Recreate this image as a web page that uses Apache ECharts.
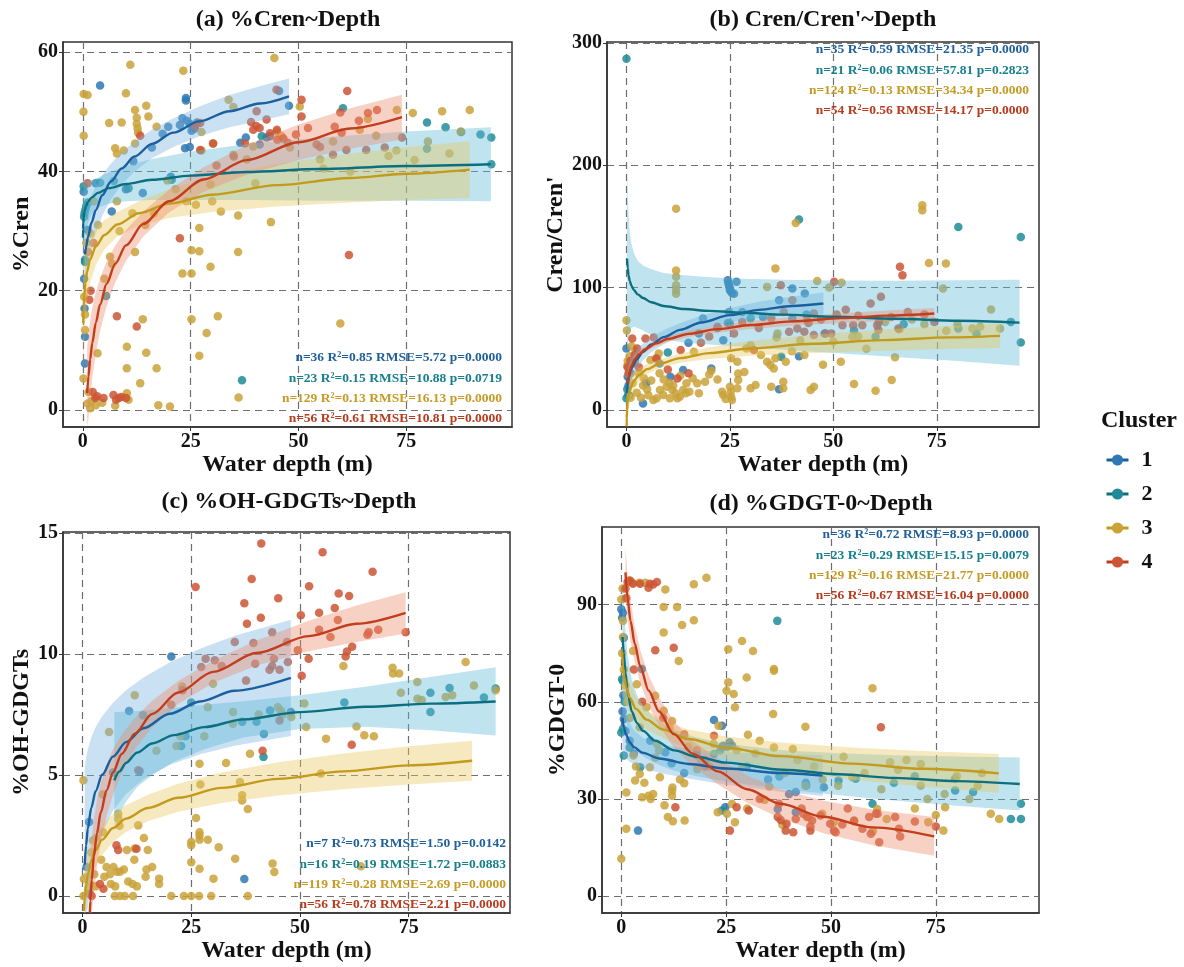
<!DOCTYPE html>
<html>
<head>
<meta charset="utf-8">
<script src="https://cdn.jsdelivr.net/npm/echarts@6/dist/echarts.min.js"></script>
<style>
  html, body { margin: 0; padding: 0; background: #fff; }
  #chart { width: 1184px; height: 967px; }
</style>
</head>
<body>
<div id="chart"></div>
<script>
// cluster names and axis ticks
const clusters = ['1', '2', '3', '4'];
const xTicks = [0, 25, 50, 75];
const yTicksA = [0, 20, 40, 60];
const yTicksB = [0, 100, 200, 300];
const yTicksC = [0, 5, 10, 15];
const yTicksD = [0, 30, 60, 90];

const panelTitles = ['(a) %Cren~Depth', "(b) Cren/Cren'~Depth", '(c) %OH-GDGTs~Depth', '(d) %GDGT-0~Depth'];
const yNames = ['%Cren', "Cren/Cren'", '%OH-GDGTs', '%GDGT-0'];
const xName = 'Water depth (m)';

// fit statistics (one line per cluster)
const statsA = ['n=36 R²=0.85 RMSE=5.72 p=0.0000', 'n=23 R²=0.15 RMSE=10.88 p=0.0719', 'n=129 R²=0.13 RMSE=16.13 p=0.0000', 'n=56 R²=0.61 RMSE=10.81 p=0.0000'];
const statsB = ['n=35 R²=0.59 RMSE=21.35 p=0.0000', 'n=21 R²=0.06 RMSE=57.81 p=0.2823', 'n=124 R²=0.13 RMSE=34.34 p=0.0000', 'n=54 R²=0.56 RMSE=14.17 p=0.0000'];
const statsC = ['n=7 R²=0.73 RMSE=1.50 p=0.0142', 'n=16 R²=0.19 RMSE=1.72 p=0.0883', 'n=119 R²=0.28 RMSE=2.69 p=0.0000', 'n=56 R²=0.78 RMSE=2.21 p=0.0000'];
const statsD = ['n=36 R²=0.72 RMSE=8.93 p=0.0000', 'n=23 R²=0.29 RMSE=15.15 p=0.0079', 'n=129 R²=0.16 RMSE=21.77 p=0.0000', 'n=56 R²=0.67 RMSE=16.04 p=0.0000'];

// ---------- (a) %Cren : points [depth, value] ----------
const ptsA1 = [[4.0,54.4],[23.9,51.9],[23.9,52.3],[23.1,48.9],[24.1,48.5],[24.8,48],[25.6,47.6],[26,47.2],[25.2,46.8],[19.8,47.5],[18.5,46.3],[11.7,41.7],[13.9,36.4],[20.4,39.1],[23.7,43.9],[24.8,44.1],[37.8,45.7],[42.6,45.7],[43.4,45.9],[47.8,51],[0.5,7.8],[0.5,12.3],[1.1,30.2],[0.2,36.6],[0.4,17],[0.3,22],[6.7,33.3],[26.5,48.2],[22.5,47.8],[3,38],[10,37],[41,44.5],[0.6,25],[16,44],[36.5,44.8],[45.5,53.5]];
const ptsA2 = [[0.2,37.5],[0.4,33],[0.6,33.6],[0.8,34.2],[0.5,25.2],[4,38.1],[10.6,37.2],[5.4,19.1],[60.3,50.6],[79.8,48.2],[84.1,47.4],[79.8,43.8],[92.2,46.2],[94.7,45.7],[94.7,41.2],[87.7,46.6],[20.6,38.6],[36.9,5.0],[0.3,32.4],[1.2,34.8],[7.2,38.4],[41.5,45.9],[0.5,24.8]];
const ptsA3 = [[0.2,53],[1.1,52.8],[0.15,50],[11,57.9],[23.3,56.9],[44.4,59],[10,53.1],[9,48.2],[6.1,48.1],[12.1,50.3],[12.5,49],[12.5,48],[12.7,47.2],[12.8,46.5],[14.7,51],[15.2,49.2],[17.1,47.5],[7.5,43.9],[7.9,43],[12.1,44.7],[7.9,35],[1.7,29.6],[6.3,25.7],[0.15,5.3],[0.5,13.4],[1.1,1.1],[1.7,0.3],[3.4,9.5],[10.2,10.6],[10.2,7],[10.2,2.8],[10.6,1.7],[13.9,15.2],[14.7,9.6],[13.3,4.5],[17.1,7],[17.5,0.8],[20.2,0.6],[12.1,26.5],[25.2,26.8],[23.1,22.9],[25.2,22.9],[25.2,15.2],[27,30.5],[27,26.6],[29.6,24],[28.7,12.9],[31.3,15.7],[27,9.1],[26.2,34.4],[36,32.6],[36,26.5],[43.6,31.5],[36.1,2.1],[59.7,14.5],[33.8,52],[34.9,50.8],[72.8,50.3],[76.5,49.8],[83.3,50.1],[89.7,50.3],[70.9,42.6],[72.7,43.5],[76.9,41.9],[87.6,46.7],[64.2,47],[66.1,48.8],[44.9,46.7],[50.3,50.9],[30.2,44.7],[29.6,37.8],[34.9,42.8],[39.5,44.2],[27.5,43.5],[27.5,46.6],[0.3,19],[0.5,16],[0.8,28],[2.5,35],[3.5,31],[5,22],[6.8,24.5],[2,1.5],[3,0.8],[7.5,0.7],[4.5,1.2],[1.3,3],[8.5,30],[11.5,33],[14.5,31],[38,42],[46,46],[55,42],[58,45],[48,44],[62,40],[68,46],[80,45],[85,43],[0.2,46],[9.5,43.5],[19.6,38.5],[21.5,37],[16.5,33],[30,35],[40,38],[55.8,40.5],[32,33.3],[24,35]];
const ptsA4 = [[7.9,15.7],[12.5,14],[13.3,46],[22.5,28.8],[61.7,26],[61.3,53.5],[59.7,49.9],[50.7,52],[50.7,49.2],[44.9,53.7],[40.3,50.1],[39,48.3],[40.2,47.6],[41,47.3],[39.5,47],[37.6,44.7],[42.6,48.7],[43.4,46.4],[45,47],[45.1,45.3],[49.4,46.2],[52.2,47.3],[54.2,44.5],[55,44.1],[58.4,47.5],[61.1,43.6],[65.7,43.6],[66.1,49.8],[74,45.7],[27.2,43.6],[27.2,48.1],[30.2,44.7],[1.1,38],[1.5,18.5],[2.3,3],[2.9,2],[3.3,2.3],[4.8,2],[7.1,2.5],[7.7,1.7],[8.3,2],[8.9,2.2],[10,2],[1.2,26.5],[1.8,20],[2.5,28],[26,47.6],[46.5,45.5],[60,46.5],[58,42.8],[64,48.5],[68.2,50.3],[70,44],[35,42.5],[31,41],[47.5,44.8]];

// ---------- (b) Cren/Cren' ----------
const ptsB1 = [[24.5,106],[24.6,104],[24.8,102],[24.9,100],[25,98],[25.2,97],[25.5,95.5],[26,95],[26.6,104.7],[24.8,80],[24.5,71],[23.4,57],[20.5,34],[17.5,62.6],[18.5,74.8],[13.7,32.6],[10.6,27.2],[4,5.4],[4.8,21.8],[0.3,27.2],[0.5,20],[0.6,12],[0,50.3],[36.9,89.7],[40.1,99.3],[43.1,95.2],[40.1,74.8],[41.7,44],[36.9,16.9],[22,67],[28,80],[33,76],[15,55],[8,38],[47.9,62.6]];
const ptsB2 = [[0,287],[80.2,149.6],[95.3,141.4],[95.3,55.2],[92.9,72],[80.2,66.6],[84.6,62.6],[60.2,59.8],[41.7,155.6],[37.4,43.5],[0.2,17],[0.4,12],[0,9.5],[1,30],[25,70.7],[43.5,78],[55,65],[67,70],[30,75],[2,40],[10,47]];
const ptsB3 = [[0,73.4],[12,164.5],[12,114],[12,108.8],[12,102],[12,98],[12,95],[36,115.6],[34,100.6],[46.1,105.5],[40.9,152.8],[71.5,167.3],[71.5,163.2],[73.1,120.2],[77.2,119.7],[76.5,99.3],[88.1,82.1],[90.3,66.6],[83.6,66.6],[77.3,64.7],[51.8,39.4],[64.9,43],[64.1,24.5],[60.2,15.8],[55,21.2],[54.6,59.8],[45.3,19],[44.5,16.3],[37.9,23.1],[37.9,17.7],[35,19],[34,39.4],[34.8,36.7],[35.6,34],[36,42.2],[38.5,39.4],[36.3,59.3],[36.5,62.6],[30,53],[29,50.3],[26.8,39.4],[27,29.9],[27,24.5],[26.8,17.7],[25,19],[25.2,15],[25.3,10.9],[25.5,8.2],[23.1,15],[23.4,12.2],[30,17.7],[31.2,20.4],[25.3,42.2],[17.1,21.8],[17.5,13.6],[14.5,21.8],[13.7,16.3],[12.9,10.9],[14.3,13.6],[9.7,19],[8.1,16.3],[8.9,12.2],[7.3,9.5],[6.5,8.2],[11.1,16.3],[11.9,13.6],[12.3,9.5],[10.5,9.5],[16.3,47.6],[7.4,42.2],[7.8,46.2],[5.8,40.8],[2.2,48],[0.8,44],[0.3,40],[1.5,22],[2.5,14],[3.5,10],[5,17],[6,24],[9,25],[10.4,22],[11.3,20],[15.2,15],[16,26],[19,23],[20.5,32],[3,30],[4.2,26],[1,10],[0.5,30],[8,30],[13,28],[0.2,36],[5.3,12],[28.5,31],[32.5,45],[40,48],[43,45],[47.5,37],[50,56],[52,104],[56,60],[62.5,72],[66,66],[69,74],[72,70],[80,70],[85.5,68],[49,100],[20,29],[22,25],[24,9],[0.1,65],[1.2,52],[2,38],[4,20],[42,57],[58,50]];
const ptsB4 = [[1.4,58.5],[4.6,58.5],[6.6,59.3],[0.3,35],[0.6,30],[2.6,50.3],[13.1,49],[12.3,25.8],[37.3,102],[40.1,89.7],[39.3,63.9],[41.3,66.6],[43.7,73.4],[45.3,78.9],[45.3,61.2],[43,63.9],[48.1,62.6],[49.5,62.6],[50.2,104.7],[50.8,78],[52.2,69.3],[54.8,69.3],[57,69.3],[59,87],[61.5,92.5],[60.6,69.3],[60.9,65.3],[61,72],[65.7,66.6],[66.1,117],[66.7,110],[74.4,72],[30.8,49],[26,62.6],[1,40],[2,45],[3,35],[7.2,42],[10,33],[15,30],[18,55],[20,60],[22,68],[28,72],[32,67],[35,75],[38,80],[44,71],[47,74],[53,82],[56,77],[64,76],[68,80],[72,78]];

// ---------- (c) %OH-GDGTs ----------
const ptsC1 = [[0.9,1.2],[1.5,3.06],[20.4,9.9],[13.1,5.16],[37.2,0.7],[47.9,7.6],[10.7,7.65]];
const ptsC2 = [[13.9,7.47],[25,8.0],[23.7,6.6],[22.7,6.2],[36.7,7.2],[40,7.2],[43.1,7.67],[41.7,6.7],[41.6,5.75],[60.2,8.0],[80,8.4],[80,7.6],[84.4,8.6],[92.3,8.2],[95,8.57],[7,5.1]];
const ptsC3 = [[0.2,4.78],[6.1,6.78],[12,8.3],[22.9,8.66],[28.8,7.8],[30,8.77],[34.6,7.6],[34.6,7.12],[44.9,7.8],[45.6,7.67],[51,7.95],[51.4,6.98],[60,9.5],[71.3,9.43],[71.4,9.19],[72.8,9.19],[73.2,8.4],[77,8.84],[77,8.15],[83.5,8.22],[88.1,9.67],[90,8.7],[64.8,6.64],[38.5,5.88],[26.9,5.47],[27.1,4.61],[36.2,4.71],[36.7,4.16],[36.7,3.95],[38,3.6],[35.1,1.54],[26.1,3.22],[26.9,2.64],[26.9,2.5],[26.9,2.33],[28.8,2.33],[31.3,2.02],[25,2.23],[25,2.1],[25,1.4],[26.9,1.13],[30.1,0.72],[20.4,0],[23.3,0],[25,0],[26.8,0],[29.6,0],[38,0],[43.7,1.34],[44.1,0.99],[64,1.23],[54.8,5.06],[12.8,2.92],[12,1.96],[11.9,1.5],[10.2,1.9],[9.5,1.1],[15,1.9],[14.7,1.1],[17.6,0.72],[17.6,0.5],[14.5,0.8],[4.7,2.64],[3.2,2.4],[2.4,2.3],[4.3,1.5],[5.5,1.2],[6.3,0.9],[7.1,1.2],[7.9,1],[8.6,1.0],[7.4,0],[8.6,0],[9.7,0],[11.6,0],[0.2,0],[1,0.8],[1.7,0.5],[1.3,0.3],[0.3,0.7],[4.6,4.2],[8.2,3.2],[8.2,3.4],[14.1,2.4],[2,1.8],[3,0.4],[5,0.8],[6.5,0.5],[10.5,0.6],[11.5,0.5],[12.5,0.4],[16,1.2],[8.5,2.9],[7.5,0.4],[2.7,0.9],[21.6,6.2],[22.5,6.6],[28,6.6],[17,6],[33,5.5],[40.5,7.5],[46,7.5],[48,7.4],[56,6.5],[63,7],[67,6.6],[78,8.1],[85,8.3],[95,8.5]];
const ptsC4 = [[41.1,14.56],[55.2,14.2],[66.7,13.4],[26,12.77],[38.9,13.1],[52.1,12.8],[58.9,12.5],[61.3,12.4],[37.2,12.1],[45,12.3],[37.8,11.25],[41,11.5],[50.2,11.6],[54.4,11.7],[58.7,11.4],[54.4,11],[65.8,10.9],[65.5,10.8],[74.3,10.9],[43.6,10.9],[39.3,10.45],[49.5,10.15],[60.8,10.1],[60.5,9.9],[39.7,9.6],[28.3,9.8],[30.4,9.74],[27.3,9.46],[43.6,9.5],[43,9.35],[45.3,9.35],[47.2,9.67],[50.4,9.1],[37.6,8.9],[41.4,6.0],[61.9,6.25],[20.4,7.9],[45.3,7.25],[7.8,2.1],[8.2,1.9],[12.4,1.95],[1.7,0.1],[2.1,0],[4,0.5],[12.8,5.2],[4.8,0.3],[23,8.5],[32,9.5],[35,10.5],[47,10.5],[52,9.8],[57,10.7],[62,10.3],[68,11],[44,9.8],[58,11.9]];

// ---------- (d) %GDGT-0 ----------
const ptsD1 = [[0,88.6],[0.4,87.5],[0.2,86],[0.6,79.8],[0.4,66.5],[0.6,54.7],[0.3,57],[0.5,62],[4,20.2],[4.9,70.1],[10.5,44.4],[6.9,48],[22.1,54.4],[24,52.6],[23.6,45],[24,46],[24.3,46.4],[25.2,46],[25.8,47.5],[26.4,46.5],[48.3,33.6],[40,31.5],[41.6,32.1],[37.3,26.9],[41.6,25.9],[24.8,27.4],[20,42],[15,38],[30,40],[35,36],[44,35],[1,51],[2,48],[3,44],[12,41],[18,43.5]];
const ptsD2 = [[37.2,85],[0,50.5],[0.4,51.6],[0.2,67],[0.8,60],[2,45.9],[4.5,39.8],[0.6,43.4],[79.6,36.2],[79.6,32.6],[83.9,32.1],[92.9,23.8],[95.3,23.8],[95.3,28.5],[59.9,28.5],[55.9,36.2],[51.8,35.7],[44.1,34.1],[24,26.4],[37.7,36.9],[22.1,43.9],[70,37],[65,35]];
const ptsD3 = [[0,91.6],[0,11.5],[0.4,85],[0.4,80],[0.2,75],[0.6,70],[1,65],[1.2,20.8],[1.2,32],[1.8,97.3],[2.2,97.3],[2.6,96.8],[4.3,96.8],[5.7,96.8],[10.5,94.7],[10.1,89.3],[13.3,89.3],[10.1,81.4],[17.3,85.2],[17.3,96.3],[20.3,98.3],[14.5,83.7],[13.7,72.6],[2.8,75.7],[3.7,65.4],[8.1,61.9],[6,58.3],[10.1,57.2],[12.1,54.1],[4.4,52.1],[2.9,43.4],[3.3,35.7],[4.4,37.7],[6.8,39.8],[8.1,42.8],[6.5,31],[7.6,31.5],[9.2,36.7],[10.3,28],[11.1,24.4],[12.3,23.1],[12.1,31],[12.1,32.5],[12.2,33.5],[15.1,23.3],[15,34.8],[18.1,39.2],[23.2,52.6],[25.5,76.2],[25.5,66],[25.1,63.4],[26.8,62.4],[27.1,58.3],[26.4,28.5],[25.2,25.4],[23,25.9],[28.8,78.8],[31.4,75.7],[29.9,67.5],[30.2,49.8],[28.8,39.8],[27.1,22.8],[36.4,70.1],[36.4,69.6],[36.2,56.2],[36.4,45.9],[35.3,33.8],[34.2,29.7],[40.9,45.4],[43.9,52.3],[43.9,34.1],[38.4,22],[59.9,64.2],[64.1,41.3],[63.3,23.8],[71.4,40.8],[71.4,34.1],[73,30],[73.2,22.8],[77.1,31.5],[77.2,27.4],[76.8,20.2],[88.1,25.4],[90.1,23.8],[50.7,22.8],[51.7,34.1],[55.1,36.7],[61,26.9],[44.7,24.4],[47.9,25.4],[1.5,60],[2,55],[5,30.5],[7,30],[8.5,47],[9,45],[14,36],[16,46],[19,42],[21,40],[27.5,45],[32,44],[39,38],[46,40],[53,43],[58,38],[66,39],[68,42],[80,37],[85,34],[0.3,95],[1,92],[3.5,40],[5.5,35],[11.5,52],[22,47],[33,48],[42,42],[48,36],[55.5,23],[62,33],[70,27],[75,25],[83,30],[86,38],[60,20],[30,27]];
const ptsD4 = [[1.5,97],[2,97.5],[2.8,96.5],[4.5,96.5],[6.8,96.5],[7.6,96.2],[8.5,97],[6.5,95.2],[8.1,75.9],[12.5,76.7],[12.9,27.4],[22.1,49.5],[25.9,20.2],[27.5,27.4],[30.4,26.4],[37.6,28.5],[37.3,24.4],[38,23.5],[39.4,22.3],[39.2,20.2],[41,19.7],[41.6,23.8],[43.4,25.4],[44.3,24.4],[45.5,23.3],[45.1,21.5],[45.1,20.2],[47.5,24.9],[49.8,22.3],[50.7,20.2],[51.1,19.7],[52.7,22.1],[55.5,23.3],[57.5,20.8],[59.1,24.4],[60.7,25.4],[61.1,25.4],[59.5,19.2],[61.5,16.6],[61.9,52.1],[65.3,24.4],[66.2,20.8],[66.5,18.4],[75,21.5],[1,95],[1.2,92],[3,70],[5,60],[10,55],[15,50],[18,45],[20,40],[33,30],[43,27],[54,27],[70,23]];

// ---------- fitted curves: [depth, fit, lower, upper] ----------
const fitA1 = [[0.5,26.1,19.1,33.1],[0.8,27.5,21.3,33.7],[1.2,29.0,23.5,34.5],[2,31.4,26.8,36],[3,33.5,29.5,37.5],[4.5,36.0,32.6,39.4],[6.5,38.3,35.3,41.3],[9,40.5,37.8,43.2],[12,42.5,40,45],[16,44.6,42.2,47],[21,46.5,44.1,48.9],[27,48.4,45.9,50.9],[34,50.1,47.4,52.8],[41,51.4,48.5,54.3],[47.8,52.6,49.6,55.6]];
const fitA2 = [[0.02,28.9,18.5,39.3],[0.05,30.3,21.5,39.0],[0.1,31.3,23.8,38.8],[0.2,32.3,26.0,38.6],[0.4,33.3,28.1,38.4],[0.7,34.1,29.8,38.4],[1.2,34.9,31.4,38.4],[2,35.6,32.7,38.5],[3.5,36.4,33.9,39.0],[6,37.2,34.6,39.8],[10,37.9,35.0,40.9],[16,38.6,35.2,42.1],[25,39.3,35.2,43.3],[38,39.9,35.2,44.6],[55,40.4,35.1,45.7],[75,40.9,35.1,46.7],[94.6,41.2,35.0,47.4]];
const fitA3 = [[0.1,14.5,5.3,23.7],[0.2,17.15,9.2,25.1],[0.35,19.3,12.4,26.1],[0.6,21.3,15.5,27.2],[1,23.25,18.3,28.2],[1.7,25.3,21.3,29.3],[3,27.4,24.3,30.5],[5,29.35,26.9,31.8],[8,31.1,29.1,33.2],[13,33.0,30.9,35.0],[20,34.6,32.2,37.0],[30,36.1,33.2,39.1],[45,37.7,34.1,41.3],[62,38.9,34.8,43.0],[75,39.6,35.2,44.1],[89.7,40.3,35.55,45.05]];
const fitA4 = [[1,2.8,-2.85,10.5],[1.3,5.6,-1.46,12.7],[1.7,8.5,2.07,14.95],[2.2,11.3,5.46,17.1],[3,14.6,9.53,19.73],[4,17.7,13.27,22.15],[5.5,21.15,17.4,24.9],[7.5,24.5,21.38,27.58],[10,27.6,25.0,30.16],[14,31.2,29.1,33.3],[20,35.0,33.14,36.94],[28,38.65,36.58,40.72],[38,41.9,39.46,44.42],[50,44.9,41.93,47.85],[62,47.2,43.82,50.6],[74,49.1,45.36,52.86]];

const fitB1 = [[0.15,14,0,28],[0.3,20,7.5,32.5],[0.6,27,16,38],[1,32,22,42],[1.5,35.5,26.5,44.5],[2.5,41.5,33.5,49.5],[4,47.5,40.5,54.5],[6,53.5,47.2,59.8],[9,59.5,53.7,65.3],[13,65.5,60,71],[18,71.5,66,77],[25,77.5,71.7,83.3],[32,81.8,75.2,88.4],[40,85,77.2,92.8],[47.6,87,78,96]];
const fitB2 = [[0.15,123.6,47,200],[0.3,116,54,178],[0.5,110,60,160],[0.8,105.5,65,146],[1.2,101.5,67,136],[1.8,98,68,128],[2.7,94.5,67,122],[4,91.5,65,118],[6,88,61,115],[9,85,58,112],[14,82.5,55,110],[20,81,53.5,108.5],[28,79.5,51.7,107.3],[38,77.9,49.3,106.5],[50,76.2,46.6,105.8],[65,74.5,43.3,105.7],[80,72.9,40,106],[95,71.4,36.1,106.5]];
const fitB3 = [[0.035,-13.2,-13.9,9.7],[0.07,-6.7,-13.9,13.4],[0.15,0.5,-13.9,17.5],[0.3,7.0,-7.3,21.3],[0.6,13.5,1.9,25.1],[1,18.3,8.7,27.9],[1.7,23.3,15.65,30.95],[3,28.6,22.9,34.3],[5,33.4,29.16,37.64],[8,37.8,34.27,41.33],[13,42.4,38.6,46.2],[20,46.5,41.72,51.28],[30,50.3,44.3,56.3],[45,54.1,46.67,61.53],[62,57.1,48.5,65.7],[78,59.3,49.85,68.75],[90.3,60.6,50.6,70.6]];
const fitB4 = [[0.3,21.5,15.7,27.3],[0.5,26.8,21.75,31.85],[0.8,31.7,27.33,36.07],[1.2,35.9,32.1,39.7],[2,41.2,38.0,44.4],[3,45.4,42.65,48.15],[4.5,49.6,47.15,52.05],[7,54.2,51.9,56.5],[10,58.0,55.65,60.35],[15,62.2,59.6,64.8],[22,66.1,63.2,69.0],[30,69.4,66.1,72.7],[40,72.4,68.76,76.04],[52,75.1,71.1,79.1],[63,77.1,72.84,81.36],[74.4,78.8,74.3,83.3]];

const fitC1 = [[0.5,1.3,-0.7,5.29],[0.8,2.09,-0.7,5.69],[1.2,2.78,-0.5,6.06],[2,3.64,0.74,6.54],[3,4.33,1.69,6.97],[4.5,5.01,2.59,7.43],[7,5.76,3.53,7.99],[10,6.36,4.22,8.5],[14,6.93,4.83,9.03],[20,7.53,5.41,9.65],[27,8.04,5.86,10.22],[35,8.48,6.21,10.75],[47.9,9.01,6.61,11.41]];
const fitC2 = [[7.3,4.78,2.9,7.6],[8.5,5.15,3.4,7.6],[10,5.5,3.9,7.62],[12.5,5.92,4.5,7.65],[16,6.3,5.0,7.7],[21,6.65,5.55,7.78],[28,6.98,6.06,7.9],[37,7.3,6.55,8.05],[50,7.6,6.9,8.3],[65,7.82,6.99,8.65],[80,7.95,6.85,9.05],[95,8.04,6.63,9.45]];
const fitC3 = [[0.3,-0.62,-0.7,0.65],[0.5,-0.07,-0.7,1.07],[0.8,0.45,-0.55,1.45],[1.2,0.89,-0.01,1.79],[2,1.45,0.66,2.24],[3,1.89,1.19,2.59],[4.5,2.33,1.7,2.96],[7,2.81,2.23,3.39],[10,3.2,2.65,3.75],[15,3.64,3.09,4.19],[22,4.06,3.48,4.64],[32,4.47,3.84,5.1],[45,4.84,4.15,5.53],[60,5.15,4.41,5.89],[75,5.4,4.61,6.19],[89.6,5.59,4.76,6.42]];
const fitC4 = [[1.66,-0.7,-0.7,1.2],[1.8,-0.19,-0.7,1.66],[2.1,0.65,-0.7,2.4],[2.6,1.64,0.09,3.19],[3.3,2.59,1.21,3.97],[4.2,3.46,2.24,4.68],[5.5,4.36,3.3,5.42],[7,5.11,4.17,6.05],[9,5.87,5.07,6.67],[12,6.71,6.06,7.36],[16,7.52,6.97,8.07],[22,8.41,7.94,8.88],[30,9.26,8.8,9.72],[40,10.04,9.52,10.56],[52,10.74,10.11,11.37],[63,11.25,10.5,12.0],[74.3,11.7,10.85,12.55]];

const fitD1 = [[0.3,55,43,67],[0.6,52,42.5,61.5],[1.1,50,42.5,57.5],[2,47.5,41.5,53.5],[3,46,40.7,51.3],[5,44.3,39.6,49],[9,42.5,38.1,46.9],[16,40.8,36.3,45.3],[25,39.4,34.4,44.4],[38,38,32.2,43.8],[48,37.2,30.9,43.5]];
const fitD2 = [[0.3,80,62,98],[0.6,75,60,90],[1,69,56,82],[1.5,63,51.5,74.5],[2.5,57,47.2,66.8],[3.7,53.5,44.8,62.2],[5.2,51,43.2,58.8],[8,48,41,55],[12.6,45,38.7,51.3],[18,43,37,49],[25,41.2,35.4,47],[38.5,39,33,45],[52,37.6,31.1,44.1],[65,36.5,29.5,43.5],[80,35.5,27.9,43.1],[95,34.6,26.4,42.8]];
const fitD3 = [[0.2,75.4,65.5,85.3],[0.4,71.1,62.8,79.4],[0.7,67.7,60.67,74.73],[1.2,64.4,58.57,70.23],[2,61.3,56.53,66.07],[3.5,57.8,54.08,61.52],[6,54.5,51.53,57.47],[10,51.4,48.7,54.1],[16,48.5,45.57,51.43],[25,45.8,42.29,49.31],[38,43.2,38.96,47.44],[55,40.9,35.93,45.87],[72,39.3,33.77,44.83],[90,37.9,31.9,43.9]];
const fitD4 = [[1,100,92,108],[1.5,92,85,99],[2.2,85,78.8,91.2],[3.2,78,72.4,83.6],[4.5,71,65.9,76.1],[6.5,63.5,58.8,68.2],[9,57,52.6,61.4],[12.5,50,45.9,54.1],[17,44,40,48],[23,38.5,34.5,42.5],[30,33,28.8,37.2],[38,28.5,24,33],[48,24.5,19.5,29.5],[60,21.2,15.7,26.7],[74.6,18.4,12.4,24.4]];

// ---------- styling ----------
const serif = '"Liberation Serif", "Times New Roman", serif';
const pointColors = ['#2f78b3', '#1f8b98', '#c9a23a', '#cc5535'];
const lineColors = ['#1a5f9e', '#0c6f7f', '#c29a1c', '#c23d1c'];
const bandColors = ['rgba(120,180,225,0.40)', 'rgba(95,185,215,0.40)', 'rgba(232,200,95,0.40)', 'rgba(238,140,110,0.40)'];
const statColors = ['#1f5f9a', '#167f8d', '#c59b25', '#b63a1e'];

const panels = [
  { pts: [ptsA1, ptsA2, ptsA3, ptsA4], fits: [fitA1, fitA2, fitA3, fitA4], stats: statsA, yTicks: yTicksA,
    grid: { left: 63, top: 42, width: 449, height: 385 }, x: [-4.6, 99.5], y: [-2.85, 61.7],
    yGap: 29, xGap: 26, titlePos: [288, 20], statX: 502, statY: 358 },
  { pts: [ptsB1, ptsB2, ptsB3, ptsB4], fits: [fitB1, fitB2, fitB3, fitB4], stats: statsB, yTicks: yTicksB,
    grid: { left: 607, top: 42, width: 432, height: 385 }, x: [-4.7, 99.7], y: [-13.9, 300.7],
    yGap: 37, xGap: 26, titlePos: [823, 20], statX: 1029, statY: 50 },
  { pts: [ptsC1, ptsC2, ptsC3, ptsC4], fits: [fitC1, fitC2, fitC3, fitC4], stats: statsC, yTicks: yTicksC,
    grid: { left: 63, top: 532, width: 447, height: 381 }, x: [-4.5, 98.3], y: [-0.7, 15.04],
    yGap: 29, xGap: 21, titlePos: [289, 502], statX: 506, statY: 844 },
  { pts: [ptsD1, ptsD2, ptsD3, ptsD4], fits: [fitD1, fitD2, fitD3, fitD4], stats: statsD, yTicks: yTicksD,
    grid: { left: 602, top: 527, width: 437, height: 386 }, x: [-4.6, 99.6], y: [-5.25, 114],
    yGap: 32, xGap: 21, titlePos: [821, 504], statX: 1029, statY: 535 }
];

const labelStyle = { fontFamily: serif, fontWeight: 'bold', fontSize: 20, color: '#111' };
const nameStyle = { fontFamily: serif, fontWeight: 'bold', fontSize: 24, color: '#111' };
const splitStyle = { type: [7, 5], color: '#6e6e6e', width: 1.2 };

const lines = [], bands = [], scatters = [], texts = [];
panels.forEach((p, i) => {
  for (let k = 0; k < 4; k++) {
    const fit = p.fits[k];
    lines.push({
      type: 'line', name: clusters[k], xAxisIndex: i, yAxisIndex: i,
      data: fit.map(r => [r[0], r[1]]),
      showSymbol: false, symbol: 'circle', symbolSize: 10, smooth: 0.3, smoothMonotone: 'x',
      lineStyle: { width: 2.4, color: lineColors[k] },
      itemStyle: { color: pointColors[k] },
      z: 5, silent: true
    });
    bands.push({
      type: 'custom', xAxisIndex: i, yAxisIndex: i, z: 3, silent: true, clip: true,
      data: fit.map(r => [r[0], r[2], r[3]]),
      encode: { x: 0, y: [1, 2] },
      renderItem: (params, api) => {
        if (params.dataIndex !== 0) return;
        const upper = fit.map(r => api.coord([r[0], r[3]]));
        const lower = fit.map(r => api.coord([r[0], r[2]])).reverse();
        return { type: 'polygon', shape: { points: upper.concat(lower) }, style: { fill: bandColors[k] } };
      }
    });
    scatters.push({
      type: 'scatter', xAxisIndex: i, yAxisIndex: i, data: p.pts[k],
      symbolSize: 8.5, itemStyle: { color: pointColors[k], opacity: 0.85 }, z: 2, silent: true
    });
    texts.push({
      type: 'text', x: p.statX, y: p.statY + k * 20.3, z: 20,
      style: { text: p.stats[k], font: 'bold 13.5px ' + serif, fill: statColors[k], align: 'right', verticalAlign: 'middle' }
    });
  }
  texts.push({
    type: 'text', x: p.titlePos[0], y: p.titlePos[1], z: 20,
    style: { text: panelTitles[i], font: 'bold 24px ' + serif, fill: '#111', align: 'center', verticalAlign: 'middle' }
  });
});
texts.push({
  type: 'text', x: 1101, y: 421, z: 20,
  style: { text: 'Cluster', font: 'bold 24px ' + serif, fill: '#111', align: 'left', verticalAlign: 'middle' }
});

const chart = echarts.init(document.getElementById('chart'), null, { renderer: 'canvas' });
chart.setOption({
  animation: false,
  backgroundColor: '#fff',
  grid: panels.map(p => Object.assign({ show: true, borderColor: '#333', borderWidth: 1.5, backgroundColor: 'transparent' }, p.grid)),
  xAxis: panels.map((p, i) => ({
    type: 'value', gridIndex: i, min: p.x[0], max: p.x[1],
    name: xName, nameLocation: 'middle', nameGap: p.xGap, nameTextStyle: nameStyle,
    axisLine: { show: true, onZero: false, lineStyle: { color: '#333', width: 1.5 } },
    axisTick: { show: true, length: 4, customValues: xTicks, lineStyle: { color: '#333' } },
    axisLabel: Object.assign({ customValues: xTicks, margin: 5 }, labelStyle),
    splitLine: { show: true, lineStyle: splitStyle }
  })),
  yAxis: panels.map((p, i) => ({
    type: 'value', gridIndex: i, min: p.y[0], max: p.y[1],
    name: yNames[i], nameLocation: 'middle', nameGap: p.yGap, nameTextStyle: nameStyle,
    axisLine: { show: true, onZero: false, lineStyle: { color: '#333', width: 1.5 } },
    axisTick: { show: true, length: 4, customValues: p.yTicks, lineStyle: { color: '#333' } },
    axisLabel: Object.assign({ customValues: p.yTicks, margin: 5 }, labelStyle),
    splitLine: { show: true, lineStyle: splitStyle }
  })),
  legend: {
    data: clusters, orient: 'vertical', left: 1100, top: 444,
    itemWidth: 22, itemHeight: 14, itemGap: 12, selectedMode: false,
    lineStyle: { width: 3 },
    textStyle: { fontFamily: serif, fontWeight: 'bold', fontSize: 22, color: '#111', padding: [0, 0, 0, 8] }
  },
  graphic: { elements: texts },
  series: lines.concat(bands, scatters)
});
</script>
</body>
</html>
